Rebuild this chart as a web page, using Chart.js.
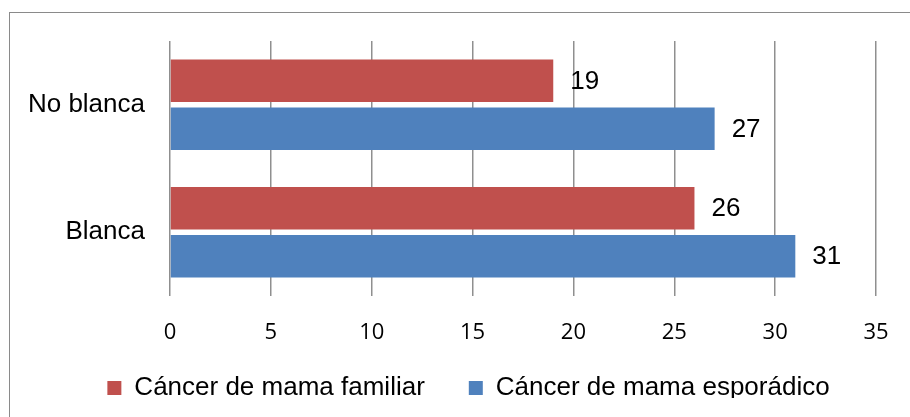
<!DOCTYPE html>
<html>
<head>
<meta charset="utf-8">
<script src="https://cdn.jsdelivr.net/npm/chart.js@4"></script>
<style>
  html, body { margin: 0; padding: 0; background: #fff; }
  #wrap { position: relative; width: 910px; height: 417px; overflow: hidden; }
  #frame { position: absolute; left: 9px; top: 12px; width: 1000px; height: 1000px; border: 1px solid #8a8a8a; box-sizing: border-box; }
  canvas { position: absolute; left: 0; top: 0; }
</style>
</head>
<body>
<div id="wrap">
  <div id="frame"></div>
  <canvas id="chart" width="910" height="417"></canvas>
</div>
<script>
const categories = ["No blanca", "Blanca"];
const familiar = [19, 26];
const esporadico = [27, 31];
const seriesNames = ["Cáncer de mama familiar", "Cáncer de mama esporádico"];
const xTicks = [0, 5, 10, 15, 20, 25, 30, 35];

const labelFont = { family: "Arial, 'Liberation Sans', sans-serif", size: 26 };

// value labels to the right of each bar
const barValues = {
  id: "barValues",
  afterDatasetsDraw(chart) {
    const ctx = chart.ctx;
    ctx.save();
    ctx.font = "26px Arial, 'Liberation Sans', sans-serif";
    ctx.fillStyle = "#000";
    ctx.textBaseline = "middle";
    ctx.textAlign = "left";
    chart.data.datasets.forEach((ds, i) => {
      chart.getDatasetMeta(i).data.forEach((bar, j) => {
        ctx.fillText(String(ds.data[j]), bar.x + 17, bar.y + 1);
      });
    });
    ctx.restore();
  }
};

// legend in the original sits a bit right of centre and close under the ticks
const shiftLegend = {
  id: "shiftLegend",
  afterLayout(chart) {
    const lg = chart.legend;
    lg.left += 17;
    lg.right += 17;
    lg.top -= 19;
    lg.bottom -= 19;
  }
};

new Chart(document.getElementById("chart"), {
  type: "bar",
  data: {
    labels: categories,
    datasets: [
      { label: seriesNames[0], data: familiar, backgroundColor: "#C0504D" },
      { label: seriesNames[1], data: esporadico, backgroundColor: "#4F81BD" }
    ]
  },
  options: {
    indexAxis: "y",
    responsive: false,
    animation: false,
    categoryPercentage: 0.753,
    barPercentage: 0.885,
    layout: { padding: { top: 41, left: 27, right: 34, bottom: 0 } },
    scales: {
      x: {
        min: 0,
        max: 35,
        afterBuildTicks: axis => { axis.ticks = xTicks.map(v => ({ value: v })); },
        afterFit: axis => {
          axis.height = 54;
          axis.paddingLeft = 0;
          axis.paddingRight = 0;
        },
        grid: { color: "#8f8f8f", lineWidth: 1.5, drawTicks: false },
        border: { display: false },
        ticks: {
          padding: 24,
          autoSkip: false,
          minRotation: 0,
          maxRotation: 0,
          color: "#000",
          font: { family: "'Open Sans', sans-serif", size: 22 }
        }
      },
      y: {
        afterFit: axis => { axis.width = 143; },
        grid: { display: false, drawTicks: false },
        border: { display: false },
        ticks: { padding: 25, color: "#000", font: labelFont }
      }
    },
    plugins: {
      legend: {
        position: "bottom",
        maxHeight: 67,
        labels: {
          color: "#000",
          font: labelFont,
          boxWidth: 14,
          boxHeight: 14,
          padding: 44
        }
      },
      tooltip: { enabled: false }
    }
  },
  plugins: [barValues, shiftLegend]
});
</script>
</body>
</html>
